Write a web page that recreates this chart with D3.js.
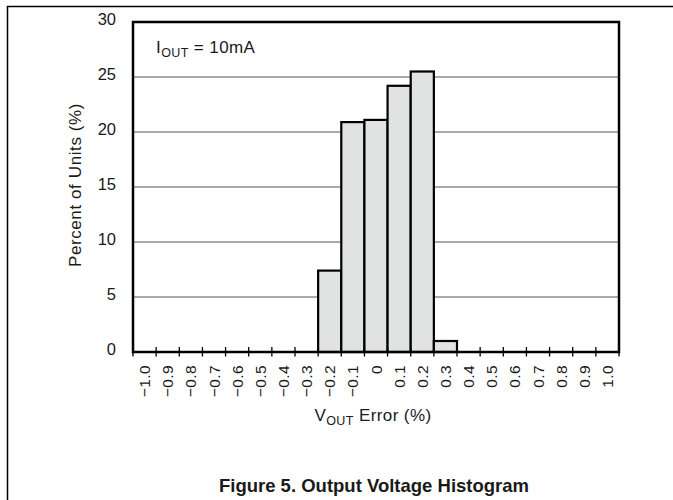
<!DOCTYPE html>
<html>
<head>
<meta charset="utf-8">
<script src="https://cdn.jsdelivr.net/npm/d3@7"></script>
<style>
  html, body { margin: 0; padding: 0; background: #fff; }
  text { font-family: "Liberation Sans", Arial, sans-serif; fill: #1a1a1a; }
</style>
</head>
<body>
<div id="chart"></div>
<script>
// bin centres (V_OUT error, %) and tick labels
var binCenters = [-1.0, -0.9, -0.8, -0.7, -0.6, -0.5, -0.4, -0.3, -0.2, -0.1, 0,
                  0.1, 0.2, 0.3, 0.4, 0.5, 0.6, 0.7, 0.8, 0.9, 1.0];
var binLabels = ["\u22121.0", "\u22120.9", "\u22120.8", "\u22120.7", "\u22120.6", "\u22120.5",
                 "\u22120.4", "\u22120.3", "\u22120.2", "\u22120.1", "0",
                 "0.1", "0.2", "0.3", "0.4", "0.5", "0.6", "0.7", "0.8", "0.9", "1.0"];
// percent of units in each bin
var percentUnits = [0, 0, 0, 0, 0, 0, 0, 0, 7.4, 20.9, 21.1, 24.2, 25.5, 1.0,
                    0, 0, 0, 0, 0, 0, 0];
var yTicks = [0, 5, 10, 15, 20, 25, 30];
var binWidth = 0.1;

var W = 673, H = 500
    , pL = 133, pR = 619, pT = 22, pB = 352;

var svg = d3.select('#chart')
    .append('svg')
    .attr('width', W)
    .attr('height', H);

// page frame lines
svg.append('line').attr('x1', 7.5).attr('x2', 7.5).attr('y1', 6).attr('y2', H)
    .attr('stroke', '#000').attr('stroke-width', 1.5);
svg.append('line').attr('x1', 7).attr('x2', W).attr('y1', 6.5).attr('y2', 6.5)
    .attr('stroke', '#000').attr('stroke-width', 1.5);

var x = d3.scaleLinear()
    .domain([binCenters[0] - binWidth / 2, binCenters[binCenters.length - 1] + binWidth / 2])
    .range([pL, pR]);
var y = d3.scaleLinear().domain([0, 30]).range([pB, pT]);

// grid
svg.append('g')
    .selectAll('line')
    .data(yTicks.filter(function(d) { return d > 0 && d < 30; }))
    .enter().append('line')
    .attr('x1', pL).attr('x2', pR)
    .attr('y1', function(d) { return y(d); })
    .attr('y2', function(d) { return y(d); })
    .attr('stroke', '#555').attr('stroke-width', 1);

// bars
svg.append('g')
    .selectAll('rect')
    .data(percentUnits.map(function(v, i) { return { c: binCenters[i], v: v }; })
        .filter(function(d) { return d.v > 0; }))
    .enter().append('rect')
    .attr('x', function(d) { return x(d.c - binWidth / 2); })
    .attr('width', function(d) { return x(d.c + binWidth / 2) - x(d.c - binWidth / 2); })
    .attr('y', function(d) { return y(d.v); })
    .attr('height', function(d) { return y(0) - y(d.v); })
    .attr('fill', '#e1e3e3')
    .attr('stroke', '#000')
    .attr('stroke-width', 2.2);

// bin-edge ticks
var edges = binCenters.map(function(c) { return c - binWidth / 2; })
    .concat([binCenters[binCenters.length - 1] + binWidth / 2]);
svg.append('g')
    .selectAll('line')
    .data(edges)
    .enter().append('line')
    .attr('x1', function(d) { return x(d); })
    .attr('x2', function(d) { return x(d); })
    .attr('y1', pB - 5).attr('y2', pB + 4.5)
    .attr('stroke', '#000').attr('stroke-width', 1.3);

// plot frame
svg.append('rect')
    .attr('x', pL).attr('y', pT)
    .attr('width', pR - pL).attr('height', pB - pT)
    .attr('fill', 'none').attr('stroke', '#000').attr('stroke-width', 2.5);

// y tick labels
svg.append('g')
    .selectAll('text')
    .data(yTicks)
    .enter().append('text')
    .attr('x', 116)
    .attr('y', function(d) { return y(d) + 3; })
    .attr('text-anchor', 'end')
    .attr('font-size', 16.5)
    .text(function(d) { return d; });

// x tick labels (rotated)
svg.append('g')
    .selectAll('text')
    .data(binCenters)
    .enter().append('text')
    .attr('transform', function(d) { return 'translate(' + (x(d) + 5.5) + ',' + 365 + ') rotate(-90)'; })
    .attr('text-anchor', 'end')
    .attr('font-size', 15.5)
    .attr('letter-spacing', 0.4)
    .text(function(d, i) { return binLabels[i]; });

// axis titles
svg.append('text')
    .attr('transform', 'translate(81,185) rotate(-90)')
    .attr('text-anchor', 'middle')
    .attr('font-size', 17)
    .attr('letter-spacing', 0.6)
    .text('Percent of Units (%)');

var xt = svg.append('text')
    .attr('x', 373).attr('y', 421)
    .attr('text-anchor', 'middle')
    .attr('font-size', 17)
    .attr('letter-spacing', 0.4);
xt.append('tspan').text('V');
xt.append('tspan').attr('font-size', 12.5).attr('dy', 4).text('OUT');
xt.append('tspan').attr('dy', -4).text(' Error (%)');

var ann = svg.append('text')
    .attr('x', 156).attr('y', 53)
    .attr('font-size', 17)
    .attr('letter-spacing', 0.4);
ann.append('tspan').text('I');
ann.append('tspan').attr('font-size', 12.5).attr('dy', 4).text('OUT');
ann.append('tspan').attr('dy', -4).text(' = 10mA');

// figure caption
svg.append('text')
    .attr('x', 374).attr('y', 492)
    .attr('text-anchor', 'middle')
    .attr('font-size', 18.5)
    .attr('font-weight', 'bold')
    .text('Figure 5. Output Voltage Histogram');
</script>
</body>
</html>
